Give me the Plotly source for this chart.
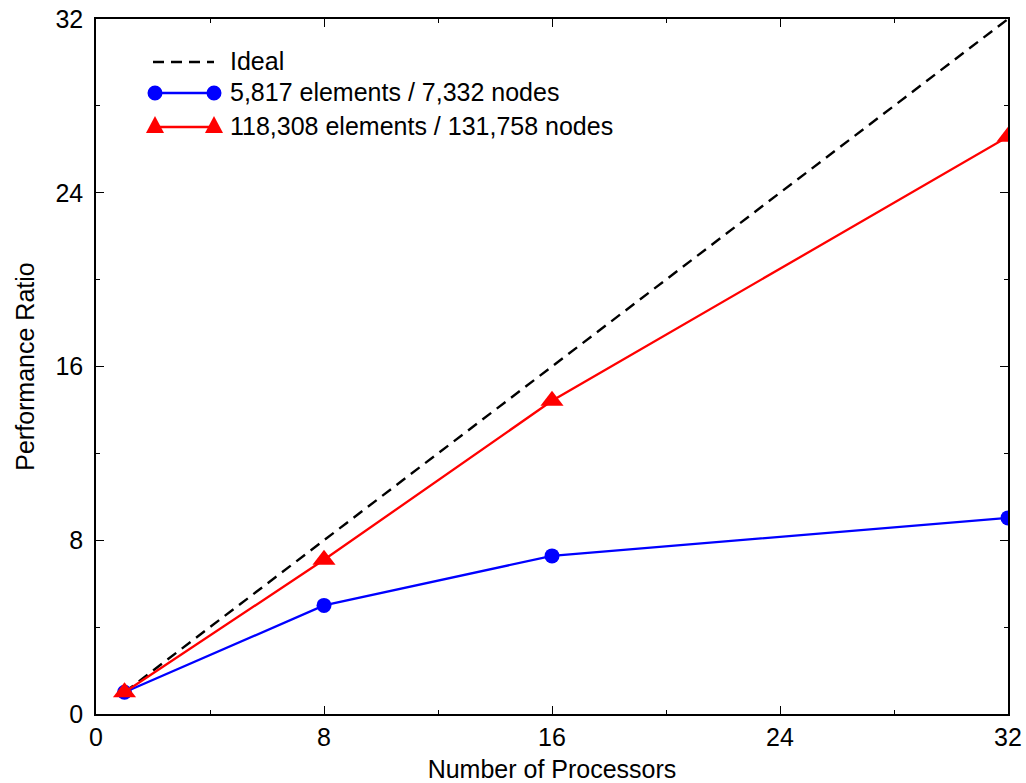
import plotly.graph_objects as go

# Speedup measurements
procs = [1, 8, 16, 32]
ideal = [1, 8, 16, 32]
small_mesh = [1.0, 5.0, 7.28, 9.03]
large_mesh = [1.0, 7.1, 14.42, 26.58]

series_names = ["Ideal", "5,817 elements / 7,332 nodes",
                "118,308 elements / 131,758 nodes"]

tick_vals = [0, 8, 16, 24, 32]
tick_text = ["0", "8", "16", "24", "32"]

FONT = "Liberation Sans, Arial, sans-serif"
BLUE = "#0000ff"
RED = "#ff0000"

W, H = 1026, 783
ML, MR, MT, MB = 96, 18, 19, 69
PW, PH = W - ML - MR, H - MT - MB


def px_x(px):
    return (px - ML) / PW


def px_y(py):
    return (H - MB - py) / PH


fig = go.Figure()
fig.add_trace(go.Scatter(
    x=procs, y=ideal, mode="lines", name=series_names[0],
    line=dict(color="black", width=2.4, dash="11px,7px"),
))
fig.add_trace(go.Scatter(
    x=procs, y=small_mesh, mode="lines+markers", name=series_names[1],
    line=dict(color=BLUE, width=2.3),
    marker=dict(symbol="circle", size=15, color=BLUE),
))
fig.add_trace(go.Scatter(
    x=procs, y=large_mesh, mode="lines+markers", name=series_names[2],
    line=dict(color=RED, width=2.3),
    marker=dict(symbol="triangle-up", size=20, color=RED),
))

# Key drawn inside the plot area: sample line with a marker at each end
key_x0, key_x1, key_text_x = 155, 214, 228
key_rows = [62, 93, 127]
tri_path = "M-9,-6 L9,-6 L0,11 Z"
shapes, annotations = [], []
for i, (name, row) in enumerate(zip(series_names, key_rows)):
    if i == 0:
        shapes.append(dict(type="line", xref="paper", yref="paper",
                           x0=px_x(key_x0 - 2), x1=px_x(key_x1),
                           y0=px_y(row), y1=px_y(row),
                           line=dict(color="black", width=2.4, dash="11px,7px")))
    else:
        col = BLUE if i == 1 else RED
        shapes.append(dict(type="line", xref="paper", yref="paper",
                           x0=px_x(key_x0), x1=px_x(key_x1),
                           y0=px_y(row), y1=px_y(row),
                           line=dict(color=col, width=2.3)))
        for cx in (key_x0, key_x1):
            if i == 1:
                shapes.append(dict(type="circle", xref="paper", yref="paper",
                                   xsizemode="pixel", ysizemode="pixel",
                                   xanchor=px_x(cx), yanchor=px_y(row),
                                   x0=-7.5, x1=7.5, y0=-7.5, y1=7.5,
                                   fillcolor=col, line=dict(width=0)))
            else:
                shapes.append(dict(type="path", xref="paper", yref="paper",
                                   xsizemode="pixel", ysizemode="pixel",
                                   xanchor=px_x(cx), yanchor=px_y(row),
                                   path=tri_path,
                                   fillcolor=col, line=dict(width=0)))
    annotations.append(dict(text=name, xref="paper", yref="paper",
                            x=px_x(key_text_x), y=px_y(row - 1),
                            xanchor="left", yanchor="middle", showarrow=False,
                            font=dict(family=FONT, size=25, color="black")))

axis_common = dict(
    range=[0, 32], tickvals=tick_vals, ticktext=tick_text,
    ticks="inside", ticklen=8, tickwidth=1, tickcolor="black",
    showline=True, linecolor="black", linewidth=1.5, mirror="ticks",
    showgrid=False, zeroline=False, automargin=False,
    minor=dict(ticks="inside", ticklen=4, tickwidth=1, tickcolor="black",
               dtick=4, tick0=0, showgrid=False),
    tickfont=dict(family=FONT, size=25, color="black"),
)

fig.update_xaxes(**axis_common,
                 title=dict(text="Number of Processors", standoff=12,
                            font=dict(family=FONT, size=25, color="black")))
fig.update_yaxes(**axis_common, ticklabelstandoff=6,
                 title=dict(text="Performance Ratio", standoff=14,
                            font=dict(family=FONT, size=25, color="black")))

fig.update_layout(
    width=W, height=H,
    margin=dict(l=ML, r=MR, t=MT, b=MB, pad=0),
    paper_bgcolor="white", plot_bgcolor="white",
    font=dict(family=FONT, size=25, color="black"),
    showlegend=False,
    shapes=shapes, annotations=annotations,
)

fig.write_html("out.html")
